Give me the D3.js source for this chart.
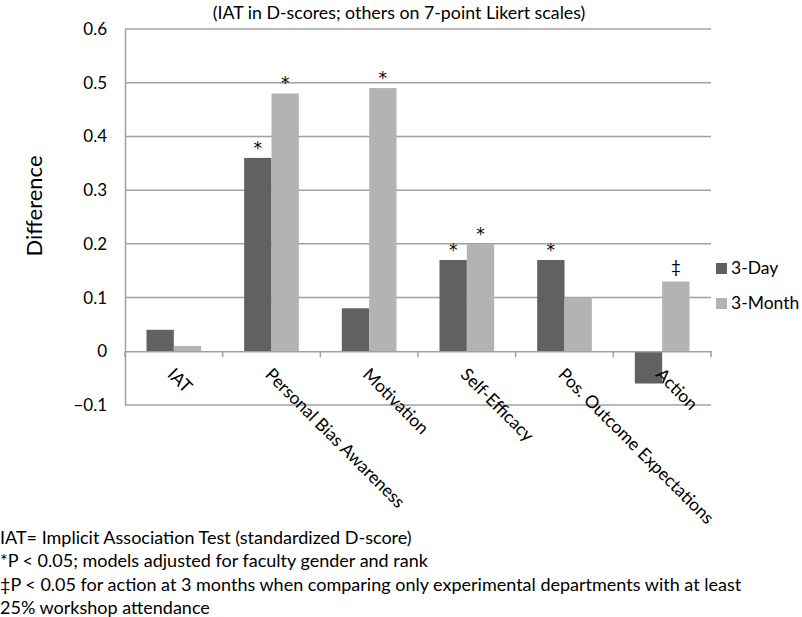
<!DOCTYPE html>
<html><head><meta charset="utf-8">
<script src="https://cdn.jsdelivr.net/npm/d3@7"></script>
<style>body{margin:0;background:#fff}svg{display:block}text{font-family:Lato,"Open Sans",sans-serif;fill:#000}</style>
</head><body>
<svg id="c" width="802" height="617"></svg>
<script>
const categories = ["IAT","Personal Bias Awareness","Motivation","Self-Efficacy","Pos. Outcome Expectations","Action"];
const series = ["3-Day","3-Month"];
const day3 = [0.04,0.36,0.08,0.17,0.17,-0.06];
const month3 = [0.01,0.48,0.49,0.20,0.10,0.13];
const marks3Day = ["","*","","*","*",""];
const marks3Month = ["","*","*","*","","‡"];
const yTicks = [-0.1,0,0.1,0.2,0.3,0.4,0.5,0.6];
const title = "(IAT in D-scores; others on 7-point Likert scales)";
const yTitle = "Difference";
const notes = ["IAT= Implicit Association Test (standardized D-score)",
 "*P < 0.05; models adjusted for faculty gender and rank",
 "‡P < 0.05 for action at 3 months when comparing only experimental departments with at least",
 "25% workshop attendance"];
const colors = ["#616161","#b3b3b3"];

const svg = d3.select("#c");
const L=125,R=711,T=29,B=405;
const y = d3.scaleLinear().domain([-0.1,0.6]).range([B,T]);
const x = d3.scaleBand().domain(categories).range([L,R]).paddingInner(0.44).paddingOuter(0.22);
const xs = d3.scaleBand().domain(series).range([0,x.bandwidth()]);

// gridlines
svg.append("g").selectAll("line").data(yTicks.filter(d=>d!==0)).join("line")
  .attr("x1",L).attr("x2",R).attr("y1",d=>y(d)).attr("y2",d=>y(d))
  .attr("stroke","#a0a0a0").attr("stroke-width",1.5);

// bars
const data = categories.map((c,i)=>({c,v:[day3[i],month3[i]],m:[marks3Day[i],marks3Month[i]]}));
const g = svg.append("g");
data.forEach(d=>{
  series.forEach((s,j)=>{
    const v=d.v[j];
    g.append("rect").attr("x",x(d.c)+xs(s)).attr("width",xs.bandwidth())
     .attr("y",y(Math.max(0,v))).attr("height",Math.abs(y(v)-y(0)))
     .attr("fill",colors[j]);
    if(d.m[j]==="*") g.append("text").attr("x",x(d.c)+xs(s)+xs.bandwidth()/2)
      .attr("y",y(Math.max(0,v))-4).attr("text-anchor","middle")
      .style("font-family","'DejaVu Sans',sans-serif").style("font-size","17px").text(d.m[j]);
    else if(d.m[j]) g.append("text").attr("x",x(d.c)+xs(s)+xs.bandwidth()/2)
      .attr("y",y(Math.max(0,v))-8).attr("text-anchor","middle")
      .style("font-size","17px").text(d.m[j]);
  });
});

// y axis
const ya = svg.append("g").attr("transform",`translate(${L},0)`)
  .call(d3.axisLeft(y).tickValues(yTicks).tickSize(0).tickPadding(18).tickFormat(d=>d===0?"0":d3.format(".1f")(d)));
ya.select(".domain").attr("stroke","#a0a0a0").attr("stroke-width",1.5);
ya.selectAll("text").style("font-size","17px").style("font-family","Lato,sans-serif");

// x axis at 0
const xa = svg.append("g").attr("transform",`translate(0,${y(0)})`)
  .call(d3.axisBottom(x).tickSize(0).tickFormat(""));
xa.select(".domain").attr("stroke","#a0a0a0").attr("stroke-width",1.5);
const bounds = d3.range(categories.length+1).map(i=>L+i*(R-L)/categories.length);
svg.append("g").selectAll("line").data(bounds).join("line")
  .attr("x1",d=>d).attr("x2",d=>d).attr("y1",y(0)).attr("y2",y(0)+6)
  .attr("stroke","#a0a0a0").attr("stroke-width",1.5);
svg.append("g").selectAll("text").data(categories).join("text")
  .attr("transform",d=>`translate(${x(d)+x.bandwidth()/2-3},${y(0)+20}) rotate(45)`)
  .attr("text-anchor","start").attr("dy","0.35em")
  .style("font-size","17.5px").text(d=>d);

// title
svg.append("text").attr("x",399).attr("y",19).attr("text-anchor","middle").style("font-size","17.8px").text(title);
svg.append("text").attr("transform","translate(42,206) rotate(-90)").attr("text-anchor","middle").style("font-size","22px").text(yTitle);

// legend
const lg = svg.append("g");
series.forEach((s,j)=>{
  lg.append("rect").attr("x",716).attr("y",263+j*35).attr("width",11).attr("height",11).attr("fill",colors[j]);
  lg.append("text").attr("x",731).attr("y",268+j*35).attr("dy","0.35em").style("font-size","17.5px").text(s);
});

// notes
svg.append("g").selectAll("text").data(notes).join("text")
  .attr("x",0).attr("y",(d,i)=>544+i*23.4).style("font-size","18px").text(d=>d);
</script>
</body></html>
